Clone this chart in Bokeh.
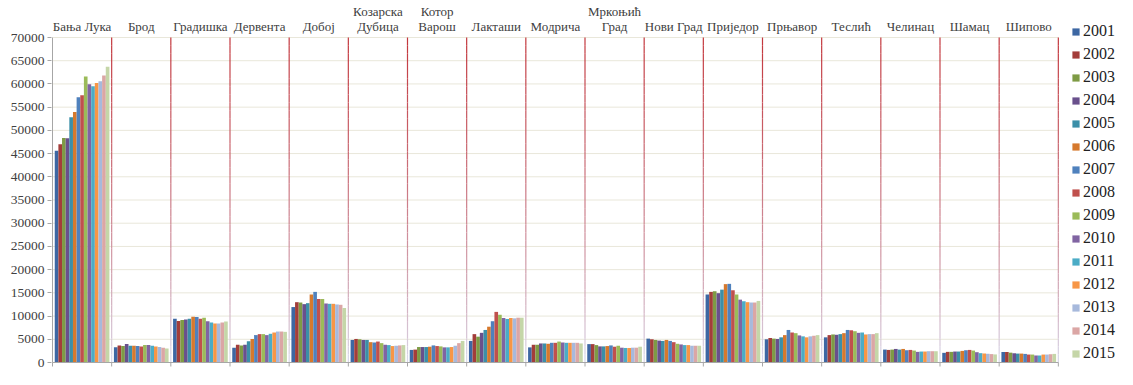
from bokeh.plotting import figure
from bokeh.models import (ColumnDataSource, FixedTicker, Legend, LegendItem, Range1d)
from bokeh.core.properties import value
from bokeh.embed import file_html
from bokeh.resources import INLINE

# ---------------- data ----------------
municipalities = ["Бања Лука", "Брод", "Градишка", "Дервента", "Добој",
                  "Козарска\nДубица", "Котор\nВарош", "Лакташи", "Модрича",
                  "Мркоњић\nГрад", "Нови Град", "Приједор", "Прњавор",
                  "Теслић", "Челинац", "Шамац", "Шипово"]
years = ["2001", "2002", "2003", "2004", "2005", "2006", "2007", "2008",
         "2009", "2010", "2011", "2012", "2013", "2014", "2015"]

banja_luka = [45630, 47020, 48350, 48280, 52800, 53930, 57140, 57560, 61600, 59930, 59510, 60200, 60560, 61800, 63700]
brod = [3260, 3680, 3540, 3960, 3610, 3610, 3540, 3470, 3750, 3750, 3610, 3470, 3330, 3190, 2990]
gradiska = [9440, 8960, 9170, 9240, 9440, 9860, 9790, 9440, 9650, 8890, 8610, 8400, 8400, 8610, 8820]
derventa = [3190, 3820, 3680, 3820, 4580, 5070, 5900, 6110, 6110, 5900, 6180, 6460, 6670, 6670, 6600]
doboj = [11940, 12990, 12920, 12570, 12780, 14650, 15210, 13680, 13680, 12710, 12640, 12640, 12500, 12430, 11740]
kozarska_dubica = [4860, 5070, 5000, 4860, 4860, 4380, 4310, 4510, 4170, 3820, 3750, 3540, 3610, 3680, 3750]
kotor_varos = [2710, 2780, 3330, 3330, 3330, 3400, 3680, 3540, 3470, 3260, 3260, 3330, 3610, 4170, 4650]
laktasi = [4650, 6110, 5560, 6390, 7010, 7710, 8890, 10900, 10280, 9580, 9380, 9580, 9510, 9650, 9650]
modrica = [3260, 3820, 3820, 4100, 4100, 4030, 4240, 4240, 4510, 4310, 4240, 4240, 4240, 4240, 4100]
mrkonjic_grad = [3960, 3960, 3750, 3470, 3470, 3540, 3680, 3400, 3610, 3190, 3130, 3130, 3190, 3190, 3400]
novi_grad = [5140, 5000, 4860, 4720, 4650, 4860, 4650, 4380, 4030, 3890, 3750, 3750, 3610, 3610, 3610]
prijedor = [14650, 15210, 15350, 14930, 15690, 16880, 16940, 15560, 14650, 13540, 13190, 12990, 12920, 12920, 13260]
prnjavor = [5000, 5280, 5140, 5070, 5420, 5900, 7010, 6460, 6320, 5830, 5630, 5420, 5630, 5760, 5900]
teslic = [5420, 5900, 6040, 5970, 6110, 6320, 7010, 6940, 6740, 6390, 6460, 6040, 6110, 6110, 6320]
celinac = [2780, 2710, 2780, 2920, 2780, 2920, 2640, 2710, 2570, 2290, 2360, 2360, 2430, 2430, 2430]
samac = [2080, 2290, 2290, 2360, 2360, 2500, 2640, 2710, 2570, 2220, 2010, 1940, 1880, 1810, 1740]
sipovo = [2260, 2260, 2120, 1990, 1920, 1920, 1850, 1710, 1710, 1510, 1510, 1710, 1710, 1780, 1850]

y_ticks = [0, 5000, 10000, 15000, 20000, 25000, 30000, 35000,
           40000, 45000, 50000, 55000, 60000, 65000, 70000]

colors = ["#3d67a3", "#a33d3a", "#7e9b45", "#69508c", "#3b8fa8", "#d6792d",
          "#4f81bd", "#c0504d", "#9bbb59", "#8064a2", "#4bacc6", "#f79646",
          "#a7b9dc", "#dba6a5", "#c5d6a8"]

series = [banja_luka, brod, gradiska, derventa, doboj, kozarska_dubica,
          kotor_varos, laktasi, modrica, mrkonjic_grad, novi_grad, prijedor,
          prnjavor, teslic, celinac, samac, sipovo]

# ---------------- layout constants ----------------
FONT = "Liberation Serif"
W, H = 1117, 369
LEFT = 52
n_cat = len(municipalities)
n_yr = len(years)
Y_TOP = 70000
PX_Y0, PX_YTOP = 362, 37                 # canvas rows of 0 and 70000
per_px = Y_TOP / (PX_Y0 - PX_YTOP)      # data units per pixel (y)
y_lo = -(H - PX_Y0) * per_px
y_hi = Y_TOP + PX_YTOP * per_px
x_lo, x_hi = -0.5, 17.5                  # extra room on the right for the legend
px_x = (x_hi - x_lo) / (W - LEFT)        # data units per pixel (x)
x_lo -= px_x                             # 1px so the axis line is fully visible
bw = 0.0616
cat_end = n_cat - 0.5

p = figure(width=W, height=H, output_backend="svg", toolbar_location=None,
           x_range=Range1d(x_lo, x_hi), y_range=Range1d(y_lo, y_hi),
           x_axis_location=None,
           min_border_left=LEFT - 1, min_border_right=0, min_border_top=0,
           min_border_bottom=0)
p.outline_line_color = None
p.background_fill_color = "white"
p.border_fill_color = "white"
p.xgrid.visible = False
p.ygrid.visible = False

# y axis (ticks + labels only; the line is drawn only up to 70000)
yax = p.yaxis[0]
yax.ticker = FixedTicker(ticks=y_ticks)
yax.axis_line_color = None
yax.major_tick_line_color = "#a6a6a6"
yax.major_tick_in = 0
yax.major_tick_out = 4
yax.minor_tick_line_color = None
yax.major_label_text_font = FONT
yax.major_label_text_font_size = "13.5px"
yax.major_label_text_color = "#404040"
yax.major_label_standoff = 3

# horizontal gridlines
p.segment(x0=[-0.5] * len(y_ticks), y0=y_ticks, x1=[cat_end] * len(y_ticks),
          y1=y_ticks, line_color="#e9e7da", line_width=1)

# separators with red -> light blue gradient
def mix(c1, c2, t):
    a = [int(c1[i:i + 2], 16) for i in (1, 3, 5)]
    b = [int(c2[i:i + 2], 16) for i in (1, 3, 5)]
    return "#%02x%02x%02x" % tuple(round(a[k] + (b[k] - a[k]) * t) for k in range(3))

bottom_c, top_c = "#d9dcee", "#c3363c"
N = 40
sx, sy0, sy1, sc = [], [], [], []
for s in range(1, n_cat + 1):
    for k in range(N):
        sx.append(s - 0.5)
        sy0.append(Y_TOP * k / N)
        sy1.append(Y_TOP * (k + 1) / N)
        sc.append(mix(bottom_c, top_c, ((k + 0.5) / N) ** 0.8))
p.segment(x0=sx, y0=sy0, x1=sx, y1=sy1, line_color=sc, line_width=1.2)

# bars
items = []
for j, yr in enumerate(years):
    xs = [i + (j - (n_yr - 1) / 2) * bw for i in range(n_cat)]
    vals = [s[j] for s in series]
    src = ColumnDataSource(dict(x=xs, top=vals))
    r = p.vbar(x="x", top="top", width=bw, source=src, fill_color=colors[j],
               line_color=None)
    items.append(LegendItem(label=yr, renderers=[r]))

# axis lines, baseline and category boundary ticks
p.segment(x0=[-0.5], y0=[0], x1=[-0.5], y1=[Y_TOP], line_color="#a6a6a6", line_width=1)
p.segment(x0=[-0.5], y0=[0], x1=[cat_end], y1=[0], line_color="#a6a6a6", line_width=1)
bx = [i - 0.5 for i in range(n_cat + 1)]
p.segment(x0=bx, y0=[0] * len(bx), x1=bx, y1=[-4 * per_px] * len(bx),
          line_color="#a6a6a6", line_width=1)

# category labels above the plot area
p.text(x=list(range(n_cat)), y=[Y_TOP + 4 * per_px] * n_cat, text=municipalities,
       text_font=value(FONT), text_font_size="13px", text_color="#404040",
       text_align="center", text_baseline="bottom", text_line_height=1.0)

legend = Legend(items=items, location=(1020, 6))
legend.background_fill_alpha = 0
legend.border_line_color = None
legend.label_text_font = FONT
legend.label_text_font_size = "16px"
legend.label_text_color = "#222222"
legend.glyph_width = 9
legend.glyph_height = 9
legend.label_standoff = 3
legend.label_height = 20
legend.spacing = 3
legend.padding = 0
legend.margin = 0
p.add_layout(legend)

open("out.html", "w").write(file_html(p, INLINE))
